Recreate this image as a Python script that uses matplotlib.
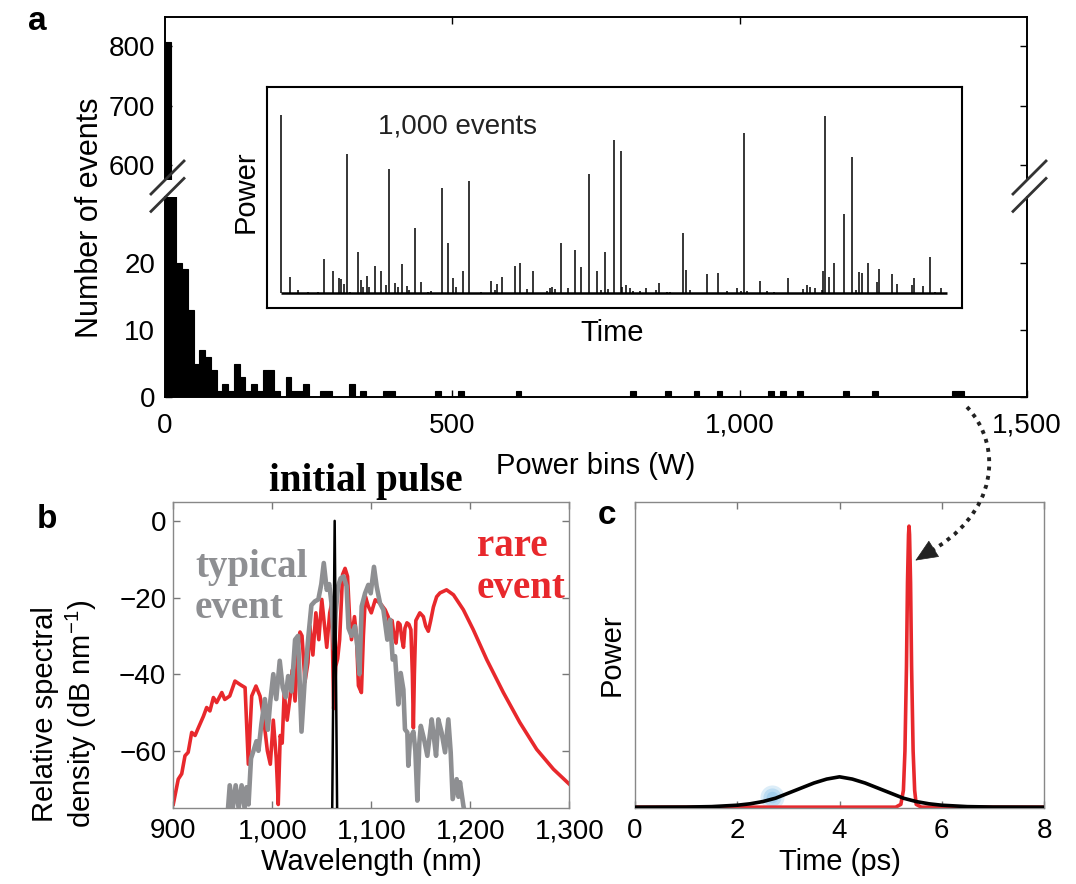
import matplotlib
matplotlib.use("Agg")
import matplotlib.pyplot as plt
from matplotlib.lines import Line2D
from matplotlib.path import Path
from matplotlib.patches import PathPatch, FancyArrowPatch

plt.rcParams['font.family'] = ['Liberation Sans', 'DejaVu Sans']
plt.rcParams['mathtext.default'] = 'regular'

# ---------------- datos ----------------
# a: histograma (bordes izquierdos de los bins de 10 W y número de eventos)
bin_left_w = [0, 10, 20, 30, 40, 50, 60, 70, 80, 90, 100, 110, 120, 130, 140, 150,
              160, 170, 180, 190, 210, 220, 230, 240, 270, 280, 320, 340, 380, 390,
              470, 510, 610, 810, 870, 920, 960, 1050, 1070, 1100, 1180, 1230, 1370, 1380]
bin_counts = [807, 66, 20, 19, 13, 5, 7, 6, 4, 1, 2, 1, 5, 3, 1, 2,
              1, 4, 4, 1, 3, 1, 1, 2, 1, 1, 2, 1, 1, 1,
              1, 1, 1, 1, 1, 1, 1, 1, 1, 1, 1, 1, 1, 1]
bin_width = 10

# a (recuadro): serie de 1.000 eventos
event_idx = [0, 13.5, 26, 41, 56, 64.6, 78.6, 87, 90, 95, 98.6, 103.6, 116, 119.6, 122.6,
             129.6, 132, 141, 150, 157, 162.6, 171, 175, 181, 188.7, 192, 201, 209.7, 221,
             225, 242, 251, 257.8, 262.8, 273.8, 282, 301, 315, 321, 325, 332, 352, 359,
             369, 379, 399, 404, 407, 411, 420, 431, 441, 450, 462, 475, 480, 486.5, 491,
             500, 510, 511.5, 518, 524, 528, 539, 547.6, 562.6, 567.6, 579, 584, 603, 608,
             614, 639.6, 656.6, 669, 684, 690, 695.6, 700, 718.7, 729, 740.7, 760.8, 784,
             789, 794, 801.8, 811.8, 814.3, 816.8, 823, 830, 845.8, 857, 863, 868.4, 873,
             882, 894.5, 898.4, 918, 925.4, 947, 950.5, 964.4, 974.5, 982, 991]
event_power = [1.0, 0.093, 0.019, 0.009, 0.009, 0.193, 0.127, 0.088, 0.079, 0.052, 0.779,
               0.009, 0.234, 0.075, 0.037, 0.097, 0.037, 0.153, 0.125, 0.047, 0.695, 0.056,
               0.034, 0.163, 0.043, 0.019, 0.368, 0.062, 0.009, 0.013, 0.589, 0.28, 0.084,
               0.037, 0.127, 0.63, 0.006, 0.071, 0.019, 0.052, 0.09, 0.155, 0.172, 0.024,
               0.125, 0.013, 0.028, 0.034, 0.022, 0.28, 0.028, 0.243, 0.15, 0.669, 0.127,
               0.019, 0.23, 0.022, 0.86, 0.8, 0.037, 0.047, 0.028, 0.013, 0.013, 0.028,
               0.019, 0.056, 0.009, 0.009, 0.34, 0.131, 0.019, 0.107, 0.112, 0.015, 0.028,
               0.015, 0.897, 0.015, 0.069, 0.015, 0.009, 0.084, 0.022, 0.047, 0.037, 0.028,
               0.019, 0.127, 0.994, 0.093, 0.168, 0.445, 0.763, 0.019, 0.121, 0.116, 0.172,
               0.065, 0.136, 0.108, 0.052, 0.047, 0.084, 0.041, 0.202, 0.009, 0.028]

# b: espectros (longitud de onda en nm, dB)
rare_wl = [900, 905, 908.5, 911.8, 915, 918.6, 922, 925.3, 930.4, 933.7, 937, 940.5, 943.8,
           949, 952, 957, 962.3, 967.4, 972.5, 975.8, 979.2, 983.5, 987.6, 991, 995, 998,
           1001, 1004, 1006, 1008, 1010, 1012, 1015, 1018, 1020, 1023, 1026, 1028, 1030,
           1033, 1036, 1038, 1041, 1044, 1047, 1050, 1053, 1055, 1058, 1060, 1062, 1064,
           1066, 1068, 1071, 1073.5, 1076, 1078, 1080, 1083, 1085, 1087, 1090, 1092, 1094,
           1097, 1100, 1104, 1109, 1114, 1117, 1119, 1121, 1123, 1125, 1127, 1129, 1131,
           1132.5, 1134, 1136, 1138, 1140, 1141.5, 1142.5, 1143.5, 1145, 1149, 1152.6, 1155,
           1157.6, 1160, 1162.7, 1166, 1169.4, 1176, 1183, 1193, 1203, 1216.6, 1233.4, 1250,
           1267, 1284, 1300]
rare_db = [-73.9, -67.4, -66, -61.3, -60.4, -55.2, -56, -54, -51, -48.7, -49.6, -46.1, -47.4,
           -44.8, -46.6, -45.7, -41.8, -42.7, -43.5, -63.5, -45.7, -43.1, -45.7, -51, -60,
           -63.5, -52, -62, -74, -56, -58, -45, -52, -46, -39, -47, -33, -29, -30, -42, -37,
           -27.5, -35, -24, -31, -20.5, -28, -33, -24, -21.5, -49, -38, -36, -31, -14, -12.4,
           -14.5, -25, -31, -25, -30, -43, -44.8, -30, -19.7, -22.3, -24, -20.6, -21.5,
           -23.2, -25, -27.5, -26, -30, -31.9, -26.5, -27, -31, -33, -28, -26.6, -27, -28.4,
           -40, -54, -40, -26, -24, -25, -27.5, -28.8, -26, -22.5, -19.8, -18.8, -18, -19.3,
           -23.2, -28.4, -36.2, -44.8, -52.6, -59.6, -64.8, -68.7]

typ_wl = [955, 957, 960, 963, 966, 969, 972, 974, 976, 978.5, 981, 984, 986, 989, 992.5,
          995.5, 998, 1001, 1004, 1007.5, 1010.5, 1013.5, 1016, 1019.5, 1023, 1026, 1029.5,
          1033, 1036.5, 1039.5, 1043, 1046.5, 1049.5, 1052, 1055, 1057.5, 1060, 1062.5, 1064,
          1066.5, 1069, 1072, 1075, 1077, 1080, 1083.5, 1086, 1088, 1090.3, 1093.7, 1097,
          1099.4, 1102.7, 1105.4, 1108.8, 1112.2, 1116.2, 1119, 1121.6, 1124, 1127.3, 1129.7,
          1132.4, 1134, 1136.4, 1137.4, 1139, 1142.5, 1144.5, 1146.5, 1148.5, 1150, 1153.3,
          1156.6, 1161, 1163, 1165.4, 1167.7, 1171, 1174.5, 1177.8, 1180.2, 1182.2, 1186.2,
          1188, 1189.6, 1193, 1195]
typ_db = [-76, -69, -75, -69, -75, -69, -75, -69.5, -74, -62, -60, -57.5, -60, -53, -46.5,
          -54.5, -47, -40, -46.5, -36.5, -43.5, -46, -40.5, -44.5, -31, -30, -55, -40.5, -30,
          -22, -21, -20.5, -16.5, -11, -18, -16.5, -22, -33.5, -24, -17, -15, -14.5, -17,
          -28, -30, -27.5, -33, -40, -22.3, -18.9, -16.7, -18.9, -12, -17.1, -21.5, -23.2,
          -31, -25.8, -36.2, -35.3, -47.9, -39.7, -44, -54.4, -55.2, -63.9, -57, -55, -60,
          -73, -58, -53.5, -57, -61.3, -51.8, -56, -61.3, -51.8, -55.2, -60.4, -51.8, -60.4,
          -72.6, -67.4, -72, -68.2, -74.3, -77]

init_wl = [1060.5, 1063, 1065.5]
init_db = [-76, 0, -76]

# c: perfiles temporales (ps, potencia relativa)
pulse_t = [0, 1, 1.5, 2, 2.25, 2.5, 2.75, 3, 3.25, 3.5, 3.75, 4, 4.25, 4.5, 4.75, 5, 5.25,
           5.5, 5.75, 6, 6.5, 7, 8]
pulse_p = [0, 0.0005, 0.002, 0.007, 0.012, 0.02, 0.032, 0.05, 0.068, 0.086, 0.1, 0.108,
           0.1, 0.086, 0.068, 0.05, 0.032, 0.02, 0.012, 0.007, 0.002, 0.0005, 0]
rogue_t = [0, 5.1, 5.2, 5.25, 5.28, 5.31, 5.33, 5.35, 5.36, 5.37, 5.39, 5.41, 5.44, 5.47,
           5.5, 5.6, 8]
rogue_p = [0, 0, 0.01, 0.06, 0.2, 0.5, 0.8, 0.97, 1.0, 0.97, 0.8, 0.5, 0.2, 0.06, 0.01, 0, 0]

RED = '#e8282c'
GREY = '#8e8f92'

# ---------------- figura ----------------
W, H = 1076, 884
fig = plt.figure(figsize=(W / 100, H / 100), dpi=100)


def caja(x0, y0, x1, y1):
    return [x0 / W, 1 - y1 / H, (x1 - x0) / W, (y1 - y0) / H]


def fpt(x, y):
    # pixel de la imagen (origen arriba a la izquierda) -> fracción de figura
    return (x / W, 1 - y / H)


def texto(x, y, s, **kw):
    return fig.text(x / W, 1 - y / H, s, **kw)


# ---- panel a: histograma con eje y cortado ----
ax_top = fig.add_axes(caja(165, 17, 1027, 180))
ax_bot = fig.add_axes(caja(165, 197.4, 1027, 397.3))
for ax in (ax_top, ax_bot):
    ax.bar(bin_left_w, bin_counts, width=bin_width, align='edge', color='black',
           edgecolor='black', linewidth=0.8)
    ax.set_xlim(0, 1500)
    for sp in ax.spines.values():
        sp.set_linewidth(1.4)
    ax.tick_params(direction='in', length=5, width=1, labelsize=20, right=True, top=True)

ax_top.set_ylim(574.8, 849)
ax_top.set_yticks([600, 700, 800])
ax_top.spines['bottom'].set_visible(False)
ax_top.tick_params(bottom=False, labelbottom=False, pad=7)
ax_top.set_xticks([500, 1000])

ax_bot.set_ylim(0, 29.7)
ax_bot.set_yticks([0, 10, 20])
ax_bot.spines['top'].set_visible(False)
ax_bot.tick_params(top=False, pad=7)
ax_bot.tick_params(axis='x', pad=11)
ax_bot.set_xticks([0, 500, 1000, 1500])
ax_bot.set_xticklabels(['0', '500', '1,000', '1,500'])

# marcas de corte
for xc in (165, 1027):
    for yc in (180, 197.4):
        fig.add_artist(Line2D([(xc - 14) / W, (xc + 19) / W],
                              [1 - (yc + 14) / H, 1 - (yc - 19) / H],
                              color='#333333', lw=2))

texto(90, 218, 'Number of events', rotation=90, ha='center', va='center', fontsize=22)
texto(596, 466, 'Power bins (W)', ha='center', va='center', fontsize=21)
texto(37, 22, 'a', ha='center', va='center', fontsize=24, fontweight='bold')

# recuadro con la serie temporal
ax_in = fig.add_axes(caja(266.7, 86.7, 961.7, 307.7))
ax_in.set_zorder(5)
ax_in.vlines(event_idx, 0, event_power, color='black', lw=1.1)
ax_in.hlines(0, 0, 1000, color='black', lw=1.8)
ax_in.set_xlim(-21.5, 1022)
ax_in.set_ylim(-0.081, 1.159)
ax_in.set_xticks([])
ax_in.set_yticks([])
for sp in ax_in.spines.values():
    sp.set_linewidth(1.5)
ax_in.text(0.275, 0.818, '1,000 events', transform=ax_in.transAxes, ha='center',
           va='center', fontsize=20, color='#222222')
texto(246, 192, 'Power', rotation=90, ha='center', va='center', fontsize=21)
texto(612, 333, 'Time', ha='center', va='center', fontsize=21)

# ---- panel b: espectros ----
ax_b = fig.add_axes(caja(173.3, 501.7, 569.3, 808.3))
ax_b.plot(rare_wl, rare_db, color=RED, lw=2.6, zorder=2)
ax_b.plot(typ_wl, typ_db, color=GREY, lw=3.3, zorder=3)
ax_b.plot(init_wl, init_db, color='black', lw=1.8, zorder=4)
ax_b.set_xlim(900, 1300)
ax_b.set_ylim(-75, 5)
ax_b.set_xticks([900, 1000, 1100, 1200, 1300])
ax_b.set_xticklabels(['900', '1,000', '1,100', '1,200', '1,300'])
ax_b.set_yticks([0, -20, -40, -60])
ax_b.tick_params(direction='in', length=5, width=1, labelsize=20, right=True, top=True,
                 color='#777777')
ax_b.tick_params(axis='y', pad=5)
ax_b.tick_params(axis='x', pad=7)
for sp in ax_b.spines.values():
    sp.set_color('#888888')
    sp.set_linewidth(1.0)

texto(65, 714, 'Relative spectral\ndensity (dB nm$^{-1}$)', rotation=90, ha='center',
      va='center', fontsize=21, linespacing=1.15)
texto(371, 862, 'Wavelength (nm)', ha='center', va='center', fontsize=21)
texto(47, 519, 'b', ha='center', va='center', fontsize=24, fontweight='bold')
texto(366, 482, 'initial pulse', ha='center', va='center', fontsize=28, fontweight='bold',
      family='Liberation Serif')
texto(195, 568, 'typical', ha='left', va='center', fontsize=28, fontweight='bold',
      family='Liberation Serif', color=GREY)
texto(195, 609, 'event', ha='left', va='center', fontsize=28, fontweight='bold',
      family='Liberation Serif', color=GREY)
texto(477, 546, 'rare', ha='left', va='center', fontsize=28, fontweight='bold',
      family='Liberation Serif', color=RED)
texto(477, 588, 'event', ha='left', va='center', fontsize=28, fontweight='bold',
      family='Liberation Serif', color=RED)

# ---- panel c: perfiles temporales ----
ax_c = fig.add_axes(caja(635, 501.7, 1044, 808.3))
for s, a in ((300, 0.3), (170, 0.4), (70, 0.5)):
    ax_c.scatter([2.67], [0.035], s=s, color='#8cc4ea', alpha=a, lw=0, zorder=1)
ax_c.plot(rogue_t, rogue_p, color=RED, lw=2.6, zorder=2)
ax_c.plot(pulse_t, pulse_p, color='black', lw=2.6, zorder=3)
ax_c.set_xlim(0, 8)
ax_c.set_ylim(-0.004, 1.087)
ax_c.set_xticks([0, 2, 4, 6, 8])
ax_c.set_yticks([])
ax_c.tick_params(direction='in', length=5, width=1, labelsize=20, top=True, pad=7,
                 color='#777777')
for sp in ax_c.spines.values():
    sp.set_color('#888888')
    sp.set_linewidth(1.0)
texto(612, 655, 'Power', rotation=90, ha='center', va='center', fontsize=21)
texto(840, 862, 'Time (ps)', ha='center', va='center', fontsize=21)
texto(607, 515, 'c', ha='center', va='center', fontsize=24, fontweight='bold')

# flecha punteada del evento extremo al pulso
arco = Path([fpt(967, 407), fpt(1003, 445), fpt(1000, 515), fpt(924, 555)],
            [Path.MOVETO, Path.CURVE4, Path.CURVE4, Path.CURVE4])
fig.add_artist(PathPatch(arco, transform=fig.transFigure, fill=False, lw=2.8,
                         linestyle=(0, (1, 1.4)), edgecolor='#222222', capstyle='butt'))
fig.add_artist(FancyArrowPatch(fpt(928, 552.5), fpt(913, 562), transform=fig.transFigure,
                               arrowstyle='-|>,head_length=15,head_width=6.5',
                               mutation_scale=1, lw=0.5, color='#222222'))

fig.savefig('out.png', dpi=100)
